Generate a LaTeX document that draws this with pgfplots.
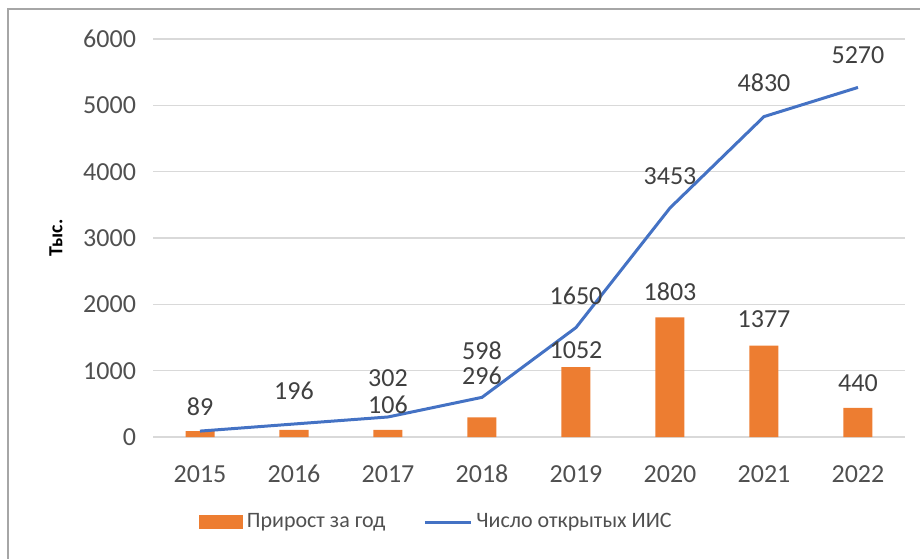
\documentclass[border=0pt]{standalone}
\usepackage{fontspec}
\setmainfont{Carlito}
\usepackage{pgfplots}
\usepackage{pgfplotstable}
\pgfplotsset{compat=1.18}

\definecolor{barorange}{RGB}{237,125,49}
\definecolor{lineblue}{RGB}{68,114,196}
\definecolor{tickgray}{RGB}{80,80,80}
\definecolor{labgray}{RGB}{64,64,64}
\definecolor{gridgray}{RGB}{217,217,217}

% подписи: значение и сдвиг над точкой (pt)
\pgfplotstableread{
x y dy
0 89 12
2 106 12.5
3 296 21
4 1052 8.5
5 1803 13
6 1377 13.5
7 440 12.5
}\barlabels
\pgfplotstableread{
x y dy
1 196 16.5
2 302 19.5
3 598 23.5
4 1650 16
5 3453 16
6 4830 17
7 5270 16
}\linelabels

\begin{document}
\begin{tikzpicture}
\useasboundingbox (0pt,0pt) rectangle (460pt,279.5pt);
\draw[gray!70, line width=0.8pt] (4pt,0pt) -- (4pt,275pt) -- (460pt,275pt);
\begin{axis}[
  at={(76.5pt,61pt)}, anchor=south west,
  scale only axis,
  width=376pt, height=199pt,
  xmin=-0.5, xmax=7.5,
  ymin=0, ymax=6000,
  ytick={0,1000,...,6000},
  xtick={0,...,7},
  xticklabels={2015,2016,2017,2018,2019,2020,2021,2022},
  scaled y ticks=false,
  /pgf/number format/1000 sep={},
  /pgf/number format/assume math mode=true,
  axis line style={draw=none},
  major tick length=0pt,
  ymajorgrids, grid style={gridgray, line width=0.8pt},
  tick label style={font=\fontsize{13}{15}\selectfont, text=tickgray},
  yticklabel style={xshift=-5pt},
  xticklabel style={yshift=-10pt, text height=9pt, text depth=0pt},
  ylabel={\bfseries Тыс.},
  ylabel style={font=\fontsize{14}{16}\selectfont, text=black},
  every axis y label/.style={at={(axis description cs:-0.129,0.5)}, rotate=90, anchor=center},
  clip=false,
  legend style={at={(axis description cs:0.378,-0.2136)}, anchor=center,
    draw=none, fill=none, font=\fontsize{11}{13}\selectfont, text=tickgray,
    legend columns=2, /tikz/every even column/.append style={column sep=17pt}},
  legend cell align=left,
]
% годовой прирост
\addplot[ybar, bar width=14.5pt, fill=barorange, draw=none,
  legend image code/.code={\fill[barorange] (0pt,-3.5pt) rectangle (22pt,3.5pt);}]
  coordinates {(0,89) (1,107) (2,106) (3,296) (4,1052) (5,1803) (6,1377) (7,440)};
\addlegendentry{Прирост за год}
% накопленное число ИИС
\addplot[lineblue, line width=1.5pt, mark=none,
  legend image code/.code={\draw[lineblue, line width=1.5pt] (0pt,0pt) -- (23pt,0pt);}]
  coordinates {(0,89) (1,196) (2,302) (3,598) (4,1650) (5,3453) (6,4830) (7,5270)};
\addlegendentry{Число открытых ИИС}
% подписи столбцов
\addplot[draw=none, forget plot, nodes near coords, point meta=y,
  visualization depends on={\thisrow{dy} \as \dy},
  every node near coord/.append style={anchor=center, yshift=\dy pt,
    font=\fontsize{13}{15}\selectfont, text=labgray}]
  table[x=x, y=y] {\barlabels};
% подписи линии
\addplot[draw=none, forget plot, nodes near coords, point meta=y,
  visualization depends on={\thisrow{dy} \as \dy},
  every node near coord/.append style={anchor=center, yshift=\dy pt,
    font=\fontsize{13}{15}\selectfont, text=labgray}]
  table[x=x, y=y] {\linelabels};
\end{axis}
\end{tikzpicture}
\end{document}
